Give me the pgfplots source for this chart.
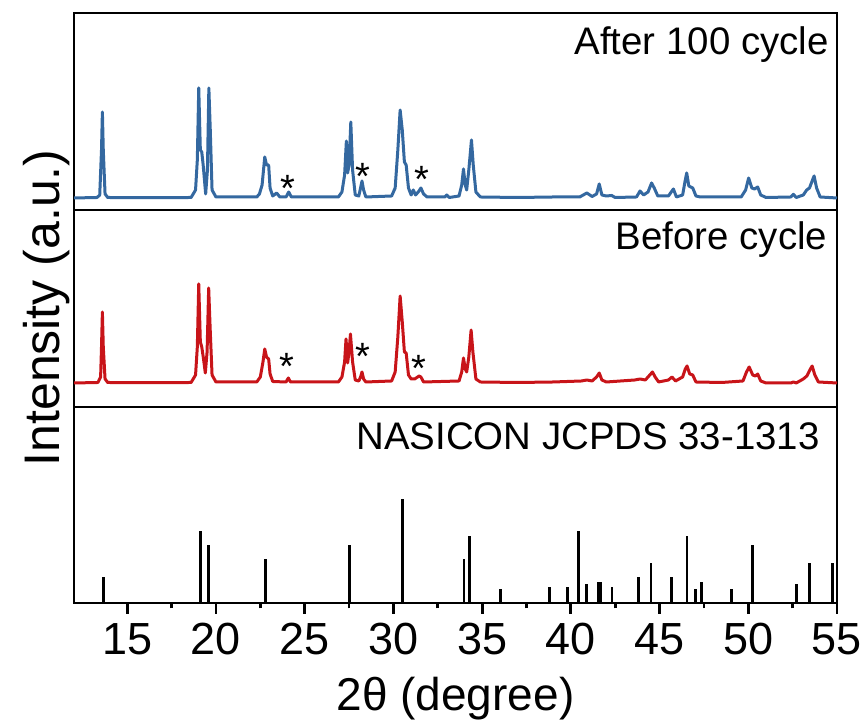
\documentclass[border=0pt]{standalone}
\usepackage{fontspec}
\setmainfont{Liberation Sans}
\usepackage{pgfplots}
\pgfplotsset{compat=1.18}
\definecolor{cblue}{RGB}{52,104,160}
\definecolor{cred}{RGB}{200,20,25}
\tikzset{
  lbl/.style={anchor=base east, inner sep=0pt, font=\fontsize{19.2}{23}\selectfont},
  star/.style={anchor=center, inner sep=0pt, yshift=-4.2pt, font=\fontsize{19}{23}\selectfont},
}
\pgfplotsset{
  panel/.style={
    scale only axis, width=381.5pt, xmin=12, xmax=55, ymin=0,
    axis line style={line width=1.4pt, black},
    ytick=\empty, anchor=south west,
  },
}
\begin{document}
\begin{tikzpicture}
\useasboundingbox (-37pt,-59pt) rectangle (397pt,301.5pt);
% bottom: reference sticks
\begin{axis}[panel, at={(0pt,0pt)}, height=98pt, ymax=196,
  xtick={15,20,...,55}, minor x tick num=1, xtick pos=left, tick align=outside,
  major tick length=5.5pt, minor tick length=2.75pt,
  tick style={line width=1.4pt, black},
  /pgf/number format/assume math mode=true,
  xticklabel style={font=\fontsize{22.5}{26}\selectfont, inner sep=0pt, anchor=base, yshift=-20.5pt},
]
\addplot[ycomb, black, line width=1.35pt] coordinates {
(13.65,25.7) (19.14,72) (19.57,58) (22.80,44) (27.52,58) (30.50,104)
(33.98,44) (34.27,67) (36.05,13.7) (38.79,16.3) (39.80,16.3) (40.42,72)
(40.89,18.7) (41.55,21.3) (41.70,21.3) (42.32,16.3) (43.80,25.7) (44.52,39.7)
(45.68,25.7) (46.55,67) (47.01,13.7) (47.35,21.3) (49.07,13.7) (50.23,58)
(52.73,18.7) (53.46,39.7) (54.76,39.7)
};
\node[lbl] at (rel axis cs:1,1) [xshift=-8.5pt, yshift=-21.5pt] {NASICON JCPDS 33-1313};
\end{axis}
% middle: before cycle
\begin{axis}[panel, at={(0pt,98pt)}, height=98.5pt, ymax=197, xtick=\empty]
\addplot[cred, line width=1.5pt, line join=round] coordinates {
(12.0,24) (13.35,24.5) (13.5,30) (13.55,60) (13.6,95) (13.65,60) (13.75,28) (13.9,24.5)
(16.0,24.3) (18.6,24.5) (18.85,32) (18.95,60) (19.03,123) (19.12,65) (19.2,60) (19.3,48)
(19.4,34) (19.5,55) (19.59,119) (19.67,80) (19.78,32) (20.0,25)
(22.3,25) (22.5,30) (22.65,45) (22.75,58) (22.85,50) (22.97,48) (23.05,33) (23.2,25.5)
(23.95,25) (24.08,29) (24.2,25)
(26.9,25) (27.1,30) (27.25,45) (27.33,68) (27.42,44) (27.5,55) (27.58,73) (27.7,45) (27.85,27)
(28.05,26) (28.15,30) (28.23,35) (28.32,28) (28.45,25)
(29.9,26) (30.1,35) (30.25,70) (30.38,111) (30.5,85) (30.62,55) (30.72,54) (30.85,32) (31.0,28)
(31.2,28) (31.45,31) (31.55,30) (31.7,25)
(33.7,26) (33.85,35) (33.95,49) (34.05,38) (34.13,35) (34.25,50) (34.38,77) (34.48,55) (34.65,28) (34.9,25)
(37.0,24.5) (39.0,25) (40.6,26) (40.9,27) (41.2,26) (41.45,30) (41.6,34) (41.75,27) (42.0,25)
(43.6,27) (43.9,28) (44.2,27) (44.45,32) (44.6,35) (44.75,30) (44.95,25)
(45.5,27) (45.7,30) (45.9,26) (46.3,30) (46.45,38) (46.55,41) (46.7,33) (46.87,32) (47.05,25)
(48.5,24.5) (49.7,26) (49.9,35) (50.05,40) (50.25,32) (50.4,31) (50.53,33) (50.7,26) (51.0,24)
(52.4,24) (52.54,25) (52.7,24) (53.1,28) (53.3,31) (53.5,38) (53.6,41) (53.75,32) (53.95,25) (55.0,24)
};
\node[lbl] at (rel axis cs:1,1) [xshift=-4.7pt, yshift=-20pt] {Before cycle};
\node[star] at (axis cs:24.02,48.7) {*};
\node[star] at (axis cs:28.27,58.7) {*};
\node[star] at (axis cs:31.46,47) {*};
\end{axis}
% top: after 100 cycle
\begin{axis}[panel, at={(0pt,196.5pt)}, height=98.5pt, ymax=197, xtick=\empty]
\addplot[cblue, line width=1.5pt, line join=round] coordinates {
(12.0,12) (13.3,12.5) (13.45,15) (13.55,60) (13.6,98) (13.65,60) (13.75,16) (13.9,12.5)
(16.0,12.3) (18.6,12.5) (18.85,20) (18.95,50) (19.03,122) (19.12,60) (19.2,58) (19.28,45)
(19.42,16) (19.52,40) (19.6,122) (19.68,80) (19.78,20) (20.0,13)
(22.3,13) (22.45,16) (22.6,25) (22.75,53) (22.85,45) (22.97,45) (23.05,22) (23.2,14)
(23.42,17) (23.6,13) (23.95,13) (24.1,18) (24.25,13)
(26.9,13) (27.1,18) (27.25,35) (27.35,69) (27.42,37) (27.5,45) (27.6,88) (27.7,40) (27.85,15)
(28.05,14) (28.15,22) (28.23,29) (28.32,20) (28.45,13)
(29.9,14) (30.1,22) (30.25,60) (30.38,100) (30.5,80) (30.62,48) (30.72,45) (30.85,22) (31.0,15)
(31.12,20) (31.25,15) (31.4,18) (31.55,22) (31.7,16) (31.9,13)
(32.9,13) (33.0,15) (33.15,12.5) (33.7,14) (33.85,25) (33.95,41) (34.05,25) (34.13,20)
(34.25,40) (34.4,70) (34.5,45) (34.65,18) (34.9,13)
(37.0,12.5) (39.0,13) (40.5,13) (40.9,17) (41.2,13.5) (41.45,16) (41.6,26) (41.75,15) (42.0,14)
(42.3,14.5) (42.5,12.5) (43.7,13) (43.9,19) (44.1,15) (44.35,18) (44.55,27) (44.7,22) (44.9,14)
(45.5,14) (45.78,21) (45.95,13) (46.3,15) (46.45,30) (46.53,37) (46.65,24) (46.87,22) (47.05,14)
(47.3,13) (49.6,13) (49.85,20) (50.02,32) (50.2,22) (50.35,21) (50.53,23) (50.7,15) (51.0,12.5)
(52.4,13) (52.54,15.7) (52.7,12.5) (53.1,15) (53.29,20) (53.45,22) (53.62,30) (53.71,34) (53.85,22)
(54.05,13) (55.0,12)
};
\node[lbl] at (rel axis cs:1,1) [xshift=-4pt, yshift=-21pt] {After 100 cycle};
\node[star] at (axis cs:24.08,30) {*};
\node[star] at (axis cs:28.27,42.3) {*};
\node[star] at (axis cs:31.6,39) {*};
\end{axis}
\node[rotate=90, anchor=base, inner sep=0pt, font=\fontsize{25}{30}\selectfont] at (-7.5pt,147.5pt) {Intensity (a.u.)};
\node[anchor=base, inner sep=0pt, font=\fontsize{23}{28}\selectfont] at (190.75pt,-53.85pt) {2θ (degree)};
\end{tikzpicture}
\end{document}
